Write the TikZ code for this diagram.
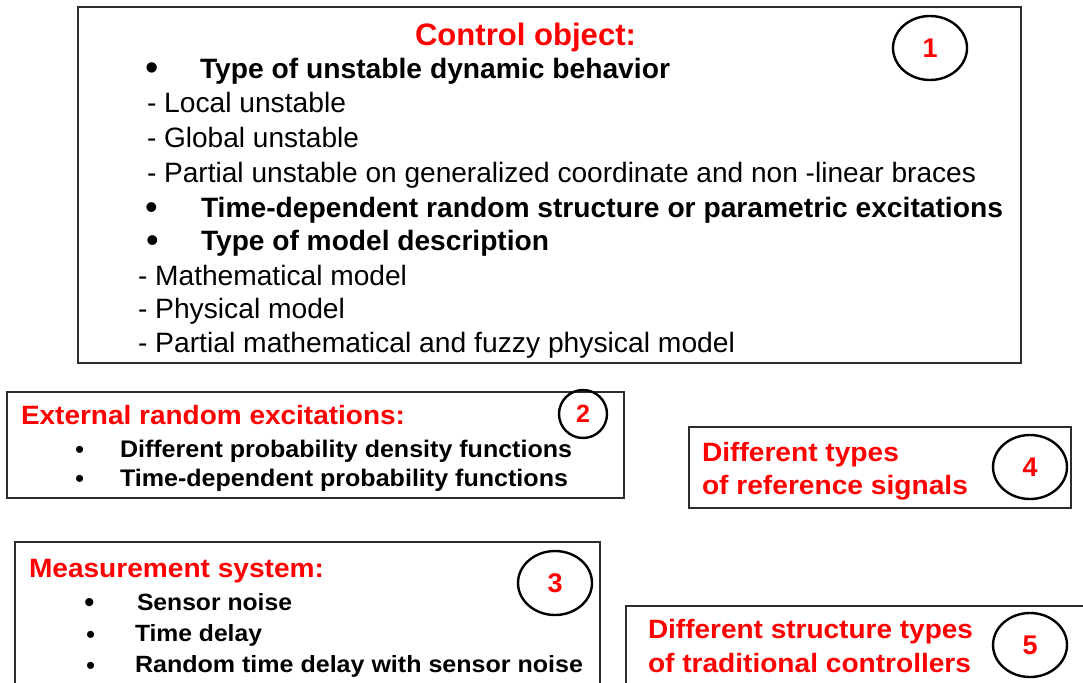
\documentclass[tikz,border=0pt]{standalone}
\usepackage{fontspec}
\setmainfont{Liberation Sans}
\usepackage{graphicx}
\usetikzlibrary{shapes.geometric}
\definecolor{rd}{RGB}{255,0,0}
\definecolor{bx}{RGB}{45,45,45}
% name, x, baseline y, width, content
\newcommand{\txtline}[5]{\node[txt] (#1) at (#2,#3) {\resizebox{#4pt}{\height}{#5}};}
\newcommand{\fsz}[1]{\fontsize{#1}{#1}\selectfont}
\begin{document}
\begin{tikzpicture}[x=1pt,y=-1pt,
  txt/.style={anchor=base west, inner sep=0pt, outer sep=0pt},
  bul/.style={anchor=base west, inner sep=0pt, outer sep=0pt, font=\fsz{#1}},
  frame/.style={draw=bx, line width=1.3pt},
  num/.style={ellipse, draw=black, line width=2.4pt, minimum width=74pt, minimum height=64pt,
    inner sep=0pt, text=rd, font=\fsz{27}\bfseries}]
\useasboundingbox (0,0) rectangle (1083,682);
\clip (0,0) rectangle (1083,682);
\fill[white] (0,0) rectangle (1083,682);

% ---------- box 1
\draw[frame] (78,7) rectangle (1021,363);
\node[num] (n1) at (930,48) {1};
\txtline{t1}{415}{46}{221}{\fsz{31}\bfseries\color{rd}Control object:}
\node[bul=38] (b11) at (145,81) {•};
\txtline{l11}{200}{79}{470}{\fsz{28}\bfseries Type of unstable dynamic behavior}
\txtline{l12}{147}{113}{199}{\fsz{28}- Local unstable}
\txtline{l13}{147}{147}{212}{\fsz{28}- Global unstable}
\txtline{l14}{147}{182}{829}{\fsz{28}- Partial unstable on generalized coordinate and non -linear braces}
\node[bul=36] (b12) at (145,219) {•};
\txtline{l15}{201}{217}{802}{\fsz{28}\bfseries Time-dependent random structure or parametric excitations}
\node[bul=36] (b13) at (146,252) {•};
\txtline{l16}{201}{250}{348}{\fsz{28}\bfseries Type of model description}
\txtline{l17}{138}{285}{269}{\fsz{28}- Mathematical model}
\txtline{l18}{138}{318}{207}{\fsz{28}- Physical model}
\txtline{l19}{138}{352}{597}{\fsz{28}- Partial mathematical and fuzzy physical model}

% ---------- box 2
\draw[frame] (7,392) rectangle (624,498);
\node[num, minimum width=48pt, minimum height=48pt, font=\fsz{25}\bfseries] (n2) at (583,414) {2};
\txtline{t2}{21}{424}{384}{\fsz{26.5}\bfseries\color{rd}External random excitations:}
\node[bul=26] (b21) at (75,458) {•};
\txtline{l21}{120}{457}{452}{\fsz{24}\bfseries Different probability density functions}
\node[bul=26] (b22) at (75,487) {•};
\txtline{l22}{120}{486}{448}{\fsz{24}\bfseries Time-dependent probability functions}

% ---------- box 3
\draw[frame] (15,542) rectangle (600,700);
\node[num] (n3) at (555,583) {3};
\txtline{t3}{29}{577}{295}{\fsz{26.5}\bfseries\color{rd}Measurement system:}
\node[bul=30] (b31) at (84,612) {•};
\txtline{l31}{137}{610}{155}{\fsz{23.5}\bfseries Sensor noise}
\node[bul=26] (b32) at (86,643) {•};
\txtline{l32}{135}{641}{127}{\fsz{23.5}\bfseries Time delay}
\node[bul=26] (b33) at (86,674) {•};
\txtline{l33}{135}{672}{448}{\fsz{23.5}\bfseries Random time delay with sensor noise}

% ---------- box 4
\draw[frame] (689,427) rectangle (1071,508);
\node[num] (n4) at (1030,467) {4};
\txtline{t41}{702}{461}{197}{\fsz{26.5}\bfseries\color{rd}Different types}
\txtline{t42}{702}{494}{266}{\fsz{26.5}\bfseries\color{rd}of reference signals}

% ---------- box 5
\draw[frame] (626,606) rectangle (1100,700);
\node[num] (n5) at (1030,645) {5};
\txtline{t51}{648}{638}{325}{\fsz{26.5}\bfseries\color{rd}Different structure types}
\txtline{t52}{648}{672}{323}{\fsz{26.5}\bfseries\color{rd}of traditional controllers}
\end{tikzpicture}
\end{document}
